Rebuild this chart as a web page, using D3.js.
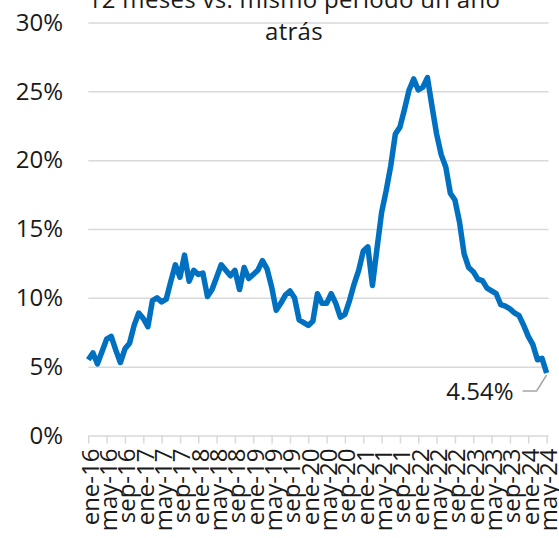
<!DOCTYPE html>
<html>
<head>
<meta charset="utf-8">
<script src="https://cdn.jsdelivr.net/npm/d3@7"></script>
<style>
  html, body { margin: 0; padding: 0; background: #fff; }
  svg { display: block; font-family: "Open Sans", "Noto Sans", sans-serif; }
</style>
</head>
<body>
<svg id="chart" width="559" height="538"></svg>
<script>
const titleLines = ["12 meses vs. mismo periodo un año", "atrás"];

const categories = [
  "ene-16","feb-16","mar-16","abr-16","may-16","jun-16","jul-16","ago-16","sep-16","oct-16","nov-16","dic-16",
  "ene-17","feb-17","mar-17","abr-17","may-17","jun-17","jul-17","ago-17","sep-17","oct-17","nov-17","dic-17",
  "ene-18","feb-18","mar-18","abr-18","may-18","jun-18","jul-18","ago-18","sep-18","oct-18","nov-18","dic-18",
  "ene-19","feb-19","mar-19","abr-19","may-19","jun-19","jul-19","ago-19","sep-19","oct-19","nov-19","dic-19",
  "ene-20","feb-20","mar-20","abr-20","may-20","jun-20","jul-20","ago-20","sep-20","oct-20","nov-20","dic-20",
  "ene-21","feb-21","mar-21","abr-21","may-21","jun-21","jul-21","ago-21","sep-21","oct-21","nov-21","dic-21",
  "ene-22","feb-22","mar-22","abr-22","may-22","jun-22","jul-22","ago-22","sep-22","oct-22","nov-22","dic-22",
  "ene-23","feb-23","mar-23","abr-23","may-23","jun-23","jul-23","ago-23","sep-23","oct-23","nov-23","dic-23",
  "ene-24","feb-24","mar-24","abr-24","may-24"
];

const values = [
  5.5, 6.0, 5.2, 6.1, 7.0, 7.2, 6.2, 5.3, 6.3, 6.7, 8.0, 8.9,
  8.5, 7.9, 9.8, 10.0, 9.7, 9.9, 11.2, 12.4, 11.5, 13.1, 11.2, 12.0,
  11.7, 11.8, 10.1, 10.6, 11.5, 12.4, 12.0, 11.6, 12.0, 10.6, 12.2, 11.4,
  11.7, 12.0, 12.7, 12.1, 10.8, 9.1, 9.6, 10.2, 10.5, 10.0, 8.4, 8.2,
  8.0, 8.3, 10.3, 9.6, 9.6, 10.3, 9.6, 8.6, 8.8, 9.8, 11.0, 12.0,
  13.4, 13.7, 10.9, 13.6, 16.2, 17.8, 19.6, 21.9, 22.4, 23.7, 25.1, 25.9,
  25.1, 25.3, 26.0, 23.9, 21.9, 20.4, 19.5, 17.6, 17.1, 15.5, 13.2, 12.2,
  11.9, 11.35, 11.25, 10.7, 10.5, 10.3, 9.5, 9.4, 9.2, 8.9, 8.7, 8.0,
  7.2, 6.6, 5.5, 5.6, 4.54
];

const xTickLabels = [
  "ene-16","may-16","sep-16","ene-17","may-17","sep-17","ene-18","may-18","sep-18",
  "ene-19","may-19","sep-19","ene-20","may-20","sep-20","ene-21","may-21","sep-21",
  "ene-22","may-22","sep-22","ene-23","may-23","sep-23","ene-24","may-24"
];
const yTicks = [0, 5, 10, 15, 20, 25, 30];
const lastLabel = "4.54%";

const svg = d3.select("#chart");
const plotLeft = 88.3, plotRight = 546.6, plotTop = 22.5, plotBottom = 435.5;

const x = d3.scalePoint().domain(categories).range([plotLeft, plotRight]);
const y = d3.scaleLinear().domain([0, 30]).range([plotBottom, plotTop]);

// gridlines
const grid = svg.append("g")
  .attr("transform", `translate(${plotLeft},0)`)
  .call(d3.axisLeft(y).tickValues(yTicks.filter(d => d > 0)).tickSize(-(plotRight - plotLeft + 2)).tickFormat(""));
grid.select(".domain").remove();
grid.selectAll("line").attr("stroke", "#d9d9d9").attr("stroke-width", 1.5);

// y labels
const yAxis = svg.append("g")
  .attr("transform", "translate(63,0)")
  .call(d3.axisLeft(y).tickValues(yTicks).tickSize(0).tickPadding(0).tickFormat(d => d + "%"));
yAxis.select(".domain").remove();
yAxis.selectAll("text")
  .attr("font-size", 24)
  .attr("fill", "#1a1a1a")
  .attr("font-family", "'Open Sans', 'Noto Sans', sans-serif");

// x axis
const xAxis = svg.append("g")
  .attr("transform", `translate(0,${plotBottom})`)
  .call(d3.axisBottom(x).tickValues(xTickLabels).tickSize(8).tickSizeOuter(0));
xAxis.select(".domain").attr("stroke", "#d9d9d9").attr("stroke-width", 1.5)
  .attr("d", `M${plotLeft},0.5H${plotRight + 2}`);
xAxis.selectAll(".tick line").attr("stroke", "#d9d9d9").attr("stroke-width", 1.5);
xAxis.selectAll(".tick text")
  .attr("font-size", 24)
  .attr("fill", "#1a1a1a")
  .attr("font-family", "'Open Sans', 'Noto Sans', sans-serif")
  .attr("x", 0).attr("y", 0).attr("dy", 0)
  .attr("text-anchor", "end")
  .attr("transform", "translate(10,13) rotate(-90)");

// line
const line = d3.line()
  .x((d, i) => x(categories[i]))
  .y(d => y(d));
svg.append("path")
  .datum(values)
  .attr("fill", "none")
  .attr("stroke", "#0070c0")
  .attr("stroke-width", 5.5)
  .attr("stroke-linejoin", "round")
  .attr("stroke-linecap", "butt")
  .attr("d", line);

// data label for last point
const lx = x(categories[categories.length - 1]);
const ly = y(values[values.length - 1]);
svg.append("path")
  .attr("fill", "none")
  .attr("stroke", "#a6a6a6")
  .attr("stroke-width", 1.5)
  .attr("d", `M${lx},${ly + 2}L${lx - 10},${ly + 18}L${lx - 24},${ly + 18}`);
svg.append("text")
  .attr("x", lx - 33)
  .attr("y", ly + 27)
  .attr("text-anchor", "end")
  .attr("font-size", 24)
  .attr("fill", "#1a1a1a")
  .text(lastLabel);

// title
svg.append("g").selectAll("text")
  .data(titleLines)
  .join("text")
  .attr("x", 294)
  .attr("y", (d, i) => 8 + i * 32)
  .attr("text-anchor", "middle")
  .attr("font-size", 24)
  .attr("letter-spacing", 0.3)
  .attr("fill", "#1a1a1a")
  .text(d => d);
</script>
</body>
</html>
